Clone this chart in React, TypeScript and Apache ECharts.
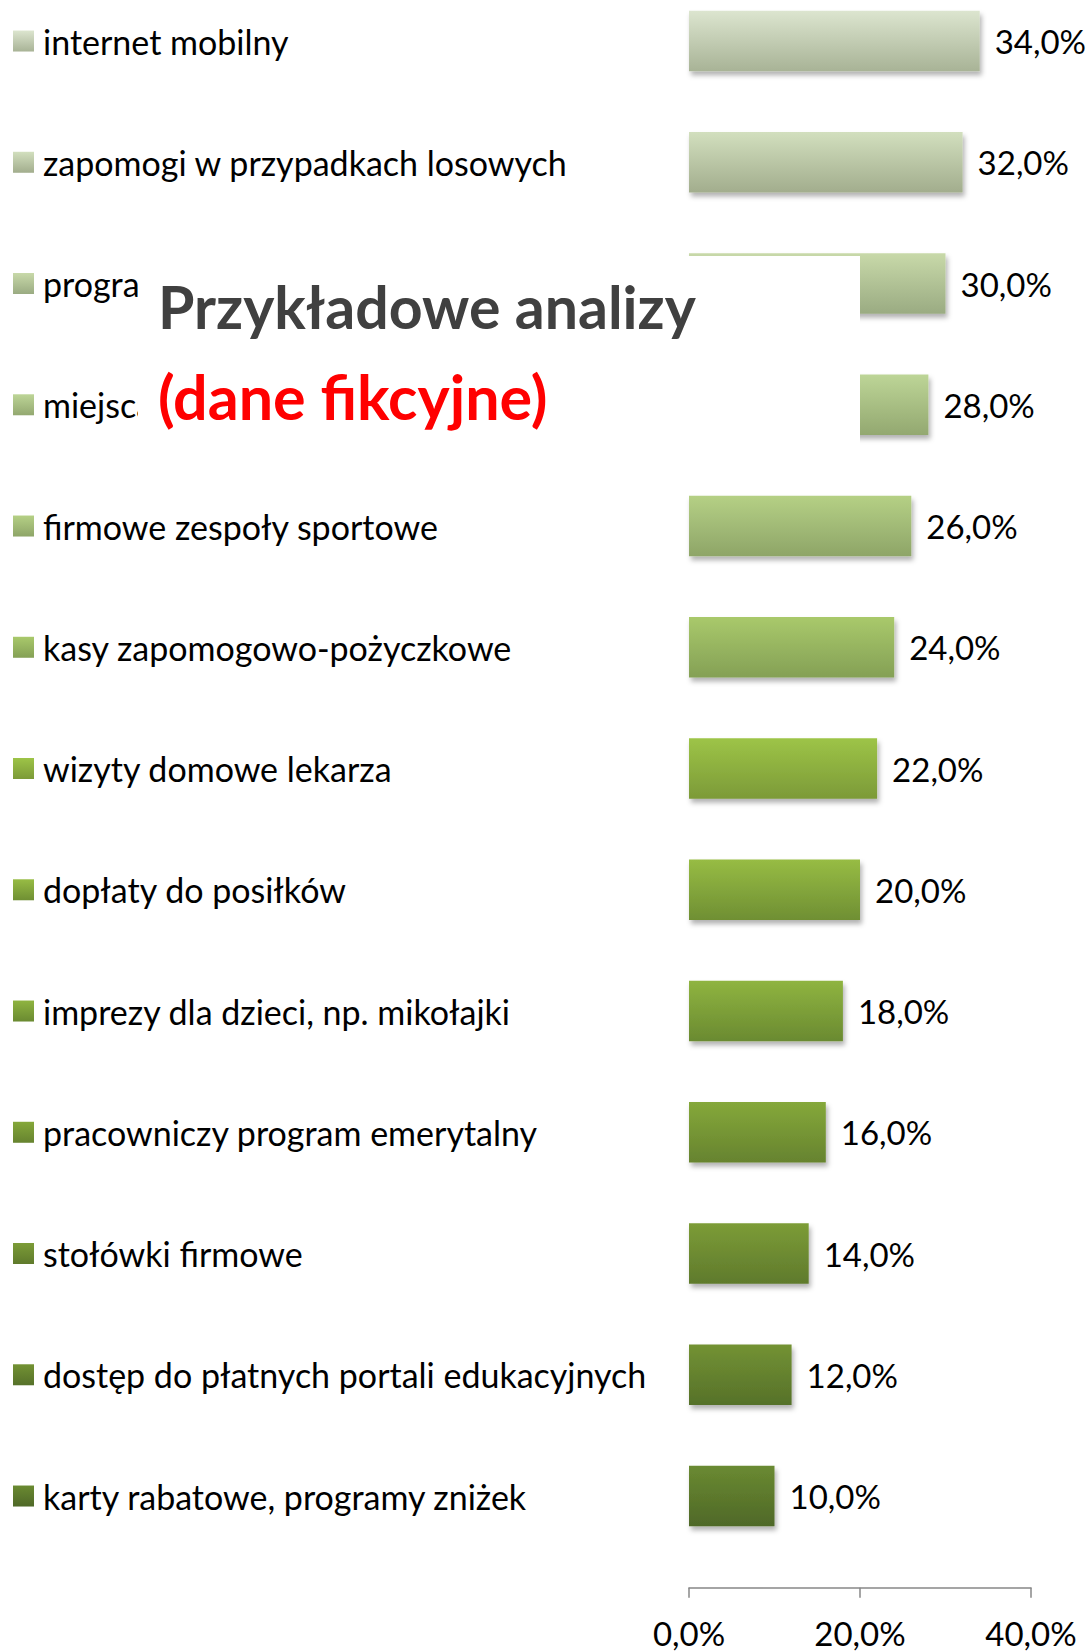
import React, { useEffect, useRef } from 'react';
import * as echarts from 'echarts';

const categories = [
  'internet mobilny',
  'zapomogi w przypadkach losowych',
  'programy szkoleniowe',
  'miejsca parkingowe',
  'firmowe zespoły sportowe',
  'kasy zapomogowo-pożyczkowe',
  'wizyty domowe lekarza',
  'dopłaty do posiłków',
  'imprezy dla dzieci, np. mikołajki',
  'pracowniczy program emerytalny',
  'stołówki firmowe',
  'dostęp do płatnych portali edukacyjnych',
  'karty rabatowe, programy zniżek',
];
const values = [34, 32, 30, 28, 26, 24, 22, 20, 18, 16, 14, 12, 10];
const topColors = [
  '#dce5cf', '#d2dfbe', '#c8d9a9', '#bdd597', '#b5d085', '#a9c96b', '#9dc447',
  '#97bc44', '#8fb440', '#85a83a', '#7c9c37', '#739233', '#6a8a31',
];
const bottomColors = [
  '#a8b396', '#a2ad8d', '#9aab82', '#93a870', '#8ea568', '#84a055', '#7c9a38',
  '#6f8f33', '#6a8a31', '#66832f', '#5f7a2c', '#56712a', '#4f6828',
];
const xTicks = [0, 20, 40];
const titleLine1 = 'Przykładowe analizy';
const titleLine2 = '(dane fikcyjne)';

const FONT = 'Lato, "Open Sans", sans-serif';
const pct = (v: number) => v.toFixed(1).replace('.', ',') + '%';
const grad = (i: number) =>
  new echarts.graphic.LinearGradient(0, 0, 0, 1, [
    { offset: 0, color: topColors[i] },
    { offset: 1, color: bottomColors[i] },
  ]);

export default function App() {
  const ref = useRef<HTMLDivElement>(null);
  useEffect(() => {
    if (!ref.current) return;
    const chart = echarts.init(ref.current, undefined, { renderer: 'svg' });
    const rich: Record<string, any> = {
      t: { fontSize: 34, fontFamily: FONT, color: '#000', padding: [0, 0, 0, 9], verticalAlign: 'middle' },
    };
    categories.forEach((_, i) => {
      rich['s' + i] = { width: 21, height: 21, backgroundColor: grad(i), verticalAlign: 'middle' };
    });
    chart.setOption({
      animation: false,
      backgroundColor: '#ffffff',
      grid: {
        left: 689,
        right: 55,
        top: -19.6,
        height: 1576.25,
        containLabel: false,
        outerBoundsMode: 'none',
      },
      xAxis: {
        type: 'value',
        min: 0,
        max: 40,
        interval: 20,
        position: 'bottom',
        offset: 31,
        splitLine: { show: false },
        axisLine: { show: true, lineStyle: { color: '#878787', width: 1.5 } },
        axisTick: { show: true, length: 10, lineStyle: { color: '#878787', width: 1.5 } },
        axisLabel: {
          formatter: (v: number) => (xTicks.includes(v) ? pct(v) : ''),
          fontSize: 33,
          fontFamily: FONT,
          color: '#000',
          margin: 29,
        },
      },
      yAxis: {
        type: 'category',
        data: categories,
        inverse: true,
        axisLine: { show: false },
        axisTick: { show: false },
        splitLine: { show: false },
        axisLabel: {
          align: 'left',
          margin: 676,
          interval: 0,
          formatter: (v: string, i: number) => `{s${i}| }{t|${v}}`,
          rich,
        },
      },
      series: [
        {
          type: 'bar',
          barWidth: '50%',
          data: values.map((v, i) => ({ value: v, itemStyle: { color: grad(i) } })),
          itemStyle: {
            shadowBlur: 5,
            shadowOffsetX: 2,
            shadowOffsetY: 4,
            shadowColor: 'rgba(0,0,0,0.3)',
          },
          label: {
            show: true,
            position: 'right',
            distance: 15,
            fontSize: 33,
            fontFamily: FONT,
            color: '#000',
            formatter: (p: any) => pct(p.value),
          },
        },
      ],
      graphic: [
        {
          type: 'rect',
          z: 100,
          shape: { x: 138, y: 256, width: 722, height: 210 },
          style: { fill: '#ffffff' },
        },
        {
          type: 'text',
          z: 101,
          x: 158,
          y: 306,
          style: {
            text: titleLine1,
            font: `bold 59px ${FONT}`,
            fill: '#404040',
            textVerticalAlign: 'middle',
          },
        },
        {
          type: 'text',
          z: 101,
          x: 158,
          y: 396,
          style: {
            text: titleLine2,
            font: `bold 61px ${FONT}`,
            fill: '#ff0000',
            textVerticalAlign: 'middle',
          },
        },
      ],
    });
    return () => chart.dispose();
  }, []);
  return <div ref={ref} style={{ position: 'fixed', left: 0, top: 0, width: 1086, height: 1651 }} />;
}
